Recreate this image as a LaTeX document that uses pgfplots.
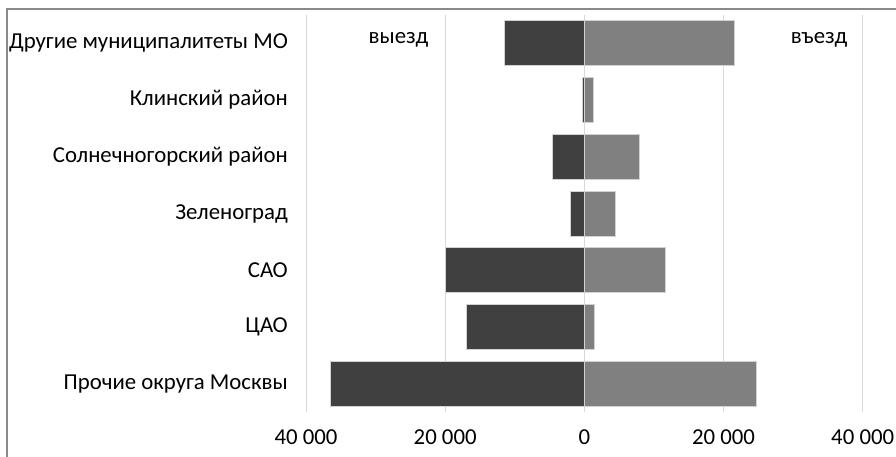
\documentclass[border=0pt]{standalone}
\usepackage{pgfplots}
\pgfplotsset{compat=1.18}
\usepackage{fontspec}
\setmainfont{Carlito}
\definecolor{darkbar}{HTML}{404040}
\definecolor{lightbar}{HTML}{808080}
\definecolor{gridc}{HTML}{D9D9D9}
\definecolor{framec}{HTML}{898989}
\begin{document}
\begin{tikzpicture}
\begin{axis}[
  at={(306pt,44pt)}, anchor=south west,
  scale only axis, width=556.7pt, height=397pt,
  xmin=-40000, xmax=40000, ymin=-0.5, ymax=6.5, y dir=reverse,
  xbar, bar width=45pt, bar shift=0pt,
  xtick={-40000,-20000,0,20000,40000},
  xticklabels={40 000,20 000,0,20 000,40 000},
  ytick={0,1,2,3,4,5,6},
  yticklabels={Другие муниципалитеты МО,Клинский район,Солнечногорский район,Зеленоград,САО,ЦАО,Прочие округа Москвы},
  xmajorgrids, major grid style={draw=gridc, line width=1pt},
  axis line style={draw=none}, major tick style={draw=none},
  tick label style={font=\fontsize{22.8}{27}\selectfont},
  yticklabel style={xshift=-10.4pt},
  xticklabel style={yshift=-14.4pt},
  /pgf/number format/assume math mode=true,
  clip=false,
]
\addplot[fill=darkbar, draw=gray!35, line width=0.8pt] coordinates {(-11500,0) (-300,1) (-4600,2) (-2000,3) (-19900,4) (-16900,5) (-36500,6)};
\addplot[fill=lightbar, draw=gray!35, line width=0.8pt] coordinates {(21600,0) (1300,1) (7900,2) (4400,3) (11600,4) (1500,5) (24700,6)};
\node[anchor=base, font=\fontsize{22.8}{27}\selectfont] at (axis cs:-26700,0) {выезд};
\node[anchor=base, font=\fontsize{22.8}{27}\selectfont] at (axis cs:33740,0) {въезд};
\end{axis}
\draw[framec, line width=1.5pt] (7pt,447pt) rectangle (905pt,-10pt);
\pgfresetboundingbox
\useasboundingbox (0pt,0pt) rectangle (896pt,456pt);
\end{tikzpicture}
\end{document}
